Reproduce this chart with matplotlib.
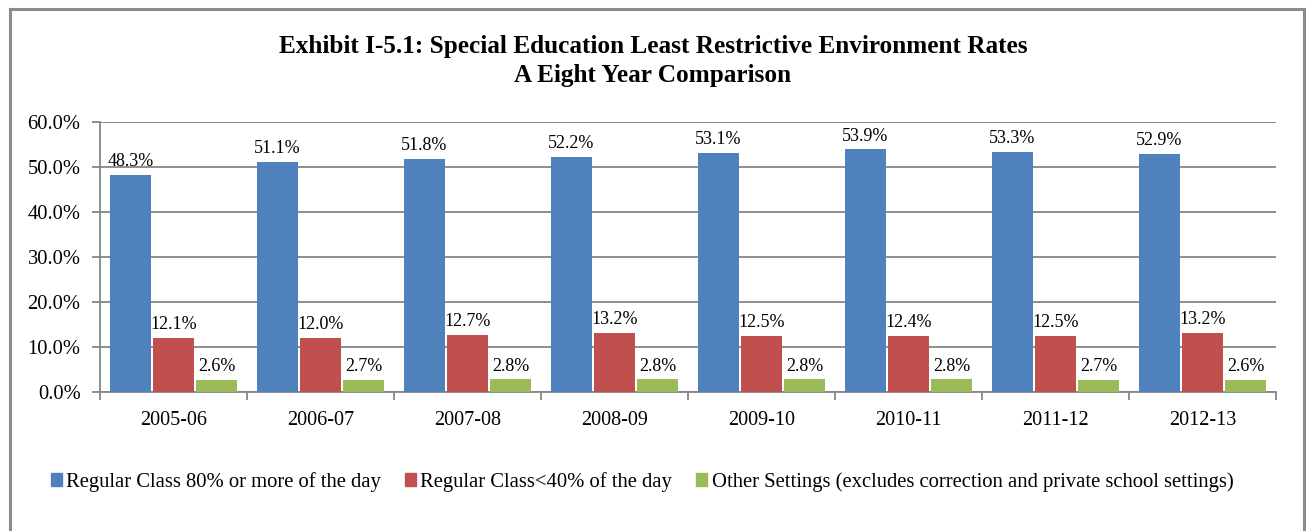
import matplotlib
matplotlib.use("Agg")
import matplotlib.pyplot as plt
import numpy as np
from matplotlib.lines import Line2D

categories = ["2005-06", "2006-07", "2007-08", "2008-09", "2009-10", "2010-11", "2011-12", "2012-13"]
series_names = ["Regular Class 80% or more of the day",
                "Regular Class<40% of the day",
                "Other Settings (excludes correction and private school settings)"]
regular_80 = [48.3, 51.1, 51.8, 52.2, 53.1, 53.9, 53.3, 52.9]
regular_40 = [12.1, 12.0, 12.7, 13.2, 12.5, 12.4, 12.5, 13.2]
other = [2.6, 2.7, 2.8, 2.8, 2.8, 2.8, 2.7, 2.6]
y_ticks = [0, 10, 20, 30, 40, 50, 60]
title = "Exhibit I-5.1: Special Education Least Restrictive Environment Rates\nA Eight Year Comparison"

colors = ["#4F81BD", "#C0504D", "#9BBB59"]
plt.rcParams['font.family'] = ['Liberation Serif', 'DejaVu Serif']

fig = plt.figure(figsize=(13.06, 5.31), dpi=100)
ax = fig.add_axes([100/1306, 1-392/531, 1176/1306, 270/531])

x = np.arange(len(categories))
width = 0.28
offset = 0.293
for i, (vals, c, name) in enumerate(zip([regular_80, regular_40, other], colors, series_names)):
    pos = x + (i - 1) * offset
    bars = ax.bar(pos, vals, width=width, color=c, label=name, zorder=3)
    for b, v in zip(bars, vals):
        ax.annotate(f"{v:.1f}%", (b.get_x() + b.get_width()/2, v),
                    xytext=(0, 3.5), textcoords="offset points",
                    ha="center", va="bottom", fontsize=13, zorder=4)

ax.set_xlim(-0.5, len(categories) - 0.5)
ax.set_ylim(0, 60)
ax.set_yticks(y_ticks)
ax.set_yticklabels([f"{t:.1f}%" for t in y_ticks], fontsize=14.8)
ax.yaxis.grid(True, color="#868686", linewidth=1.3, zorder=0)
ax.set_axisbelow(True)
ax.set_xticks(x)
ax.set_xticklabels(categories, fontsize=14.5)
ax.tick_params(axis="x", length=0, pad=14)
ax.set_xticks(np.arange(-0.5, len(categories)), minor=True)
ax.tick_params(axis="x", which="minor", length=6, color="#868686", width=1.3)
ax.tick_params(axis="y", length=6, color="#868686", width=1.3, pad=8)
for s in ["top", "right"]:
    ax.spines[s].set_visible(False)
for s in ["left", "bottom"]:
    ax.spines[s].set_color("#868686")
    ax.spines[s].set_linewidth(1.3)

fig.text(0.5, 1-61/531, title, ha="center", va="center", fontsize=18.2,
         fontweight="bold", linespacing=1.38)

handles = [plt.Rectangle((0, 0), 1, 1, color=c) for c in colors]
fig.legend(handles, series_names, loc="center", bbox_to_anchor=(642/1306, 1-482/531),
           ncol=3, frameon=False, fontsize=14.9, handlelength=0.55, handleheight=0.55,
           handletextpad=0.2, columnspacing=1.15)

# outer border
bc = "#8c8c8c"
fig.add_artist(Line2D([10/1306, 10/1306], [0, 1-9/531], transform=fig.transFigure, color=bc, lw=2.2))
fig.add_artist(Line2D([10/1306, 1304/1306], [1-9/531, 1-9/531], transform=fig.transFigure, color=bc, lw=2.2))
fig.add_artist(Line2D([1304/1306, 1304/1306], [0, 1-9/531], transform=fig.transFigure, color=bc, lw=2.2))

fig.savefig("out.png", dpi=100)
